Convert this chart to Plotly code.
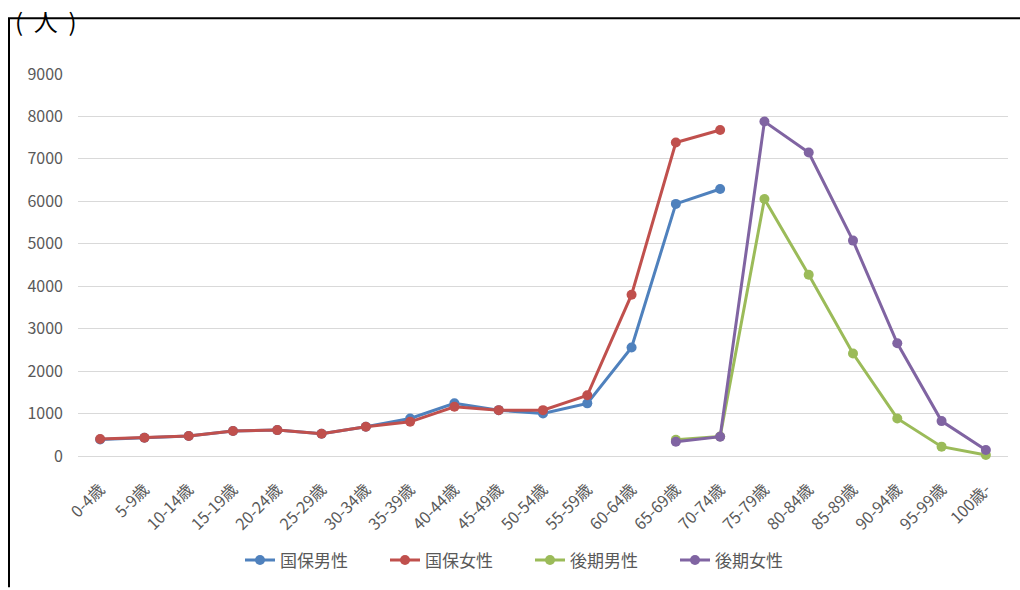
import plotly.graph_objects as go

categories = ["0-4歳", "5-9歳", "10-14歳", "15-19歳", "20-24歳", "25-29歳", "30-34歳",
              "35-39歳", "40-44歳", "45-49歳", "50-54歳", "55-59歳", "60-64歳", "65-69歳",
              "70-74歳", "75-79歳", "80-84歳", "85-89歳", "90-94歳", "95-99歳", "100歳-"]

kokuho_male = [390, 430, 470, 590, 610, 525, 690, 885, 1240, 1080, 1000, 1240, 2555, 5940, 6290,
               None, None, None, None, None, None]
kokuho_female = [400, 430, 470, 590, 610, 525, 690, 805, 1160, 1080, 1080, 1430, 3800, 7385, 7680,
                 None, None, None, None, None, None]
kouki_male = [None] * 13 + [380, 460, 6055, 4270, 2413, 885, 220, 23]
kouki_female = [None] * 13 + [336, 454, 7880, 7150, 5075, 2655, 822, 141]

series_names = ["国保男性", "国保女性", "後期男性", "後期女性"]
series_values = [kokuho_male, kokuho_female, kouki_male, kouki_female]
colors = ["#4F81BD", "#C0504D", "#9BBB59", "#8064A2"]

FONT = "Noto Sans CJK JP"

fig = go.Figure()
for name, vals, c in zip(series_names, series_values, colors):
    fig.add_trace(go.Scatter(
        x=categories, y=vals, name=name, mode="lines+markers",
        line=dict(color=c, width=3), marker=dict(color=c, size=10),
        cliponaxis=False, connectgaps=False,
    ))

L, R, T, B = 78, 12, 74, 132
W, H = 1020, 590
pw, ph = W - L - R, H - T - B

def px_x(px):
    return (px - L) / pw

def px_y(py):
    return (H - B - py) / ph

fig.update_layout(
    width=W, height=H,
    margin=dict(l=L, r=R, t=T, b=B),
    paper_bgcolor="white", plot_bgcolor="white",
    font=dict(family=FONT, color="#595959"),
    showlegend=True,
    legend=dict(orientation="h", x=px_x(240), xanchor="left", y=px_y(563), yanchor="middle",
                font=dict(size=17, color="#595959"), itemwidth=30, traceorder="normal",
                entrywidth=100, entrywidthmode="pixels"),
    xaxis=dict(type="category", range=[-0.5, 20.5], showgrid=False, showline=False,
               zeroline=False, tickangle=-45, tickfont=dict(size=16, color="#595959"),
               ticks="", ticklabelstandoff=20),
    yaxis=dict(range=[0, 9000], dtick=1000, showgrid=True, gridcolor="#D9D9D9", gridwidth=1,
               zeroline=True, zerolinecolor="#D9D9D9", zerolinewidth=1, showline=False,
               tickfont=dict(size=16, color="#595959"), ticklabelstandoff=14, ticks=""),
    shapes=[
        dict(type="line", xref="paper", yref="paper", x0=px_x(8), x1=px_x(1020),
             y0=px_y(18), y1=px_y(18), line=dict(color="black", width=2)),
        dict(type="line", xref="paper", yref="paper", x0=px_x(9), x1=px_x(9),
             y0=px_y(18), y1=px_y(590), line=dict(color="black", width=2)),
    ],
    annotations=[
        dict(text="(&nbsp;&nbsp;人&nbsp;&nbsp;)", xref="paper", yref="paper", x=px_x(13), y=px_y(20),
             xanchor="left", yanchor="middle", showarrow=False,
             font=dict(size=24, color="black", family=FONT)),
    ],
)

fig.write_html("out.html")
